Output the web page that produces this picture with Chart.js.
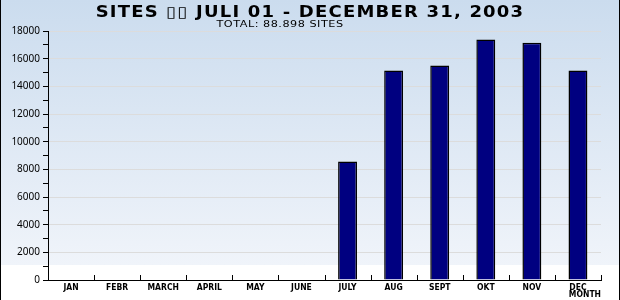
<!DOCTYPE html>
<html>
<head>
<meta charset="utf-8">
<script src="https://cdn.jsdelivr.net/npm/chart.js@4"></script>
<style>
  html, body { margin: 0; padding: 0; background: #fff; }
  #wrap { width: 620px; height: 300px; }
</style>
</head>
<body>
<div id="wrap"><canvas id="myChart" width="620" height="300"></canvas></div>
<script>
// values
var months = ["JAN", "FEBR", "MARCH", "APRIL", "MAY", "JUNE", "JULY", "AUG", "SEPT", "OKT", "NOV", "DEC"];
var sites = [0, 0, 0, 0, 0, 0, 8570, 15150, 15500, 17380, 17150, 15148];
var titleText = "SITES \u25AF\u25AF JULI 01 - DECEMBER 31, 2003";
var subtitleText = "TOTAL: 88.898 SITES";

// gradient page background + black side edges
var bgPlugin = {
  id: "bg",
  beforeDraw: function(chart) {
    var c = chart.ctx;
    var g = c.createLinearGradient(0, 0, 0, 265);
    g.addColorStop(0, "#cbdcee");
    g.addColorStop(1, "#f0f4fa");
    c.save();
    c.fillStyle = "#fff";
    c.fillRect(0, 0, chart.width, chart.height);
    c.fillStyle = g;
    c.fillRect(0, 0, chart.width, 265);
    c.fillStyle = "#000";
    c.fillRect(0, 0, 1, chart.height);
    c.fillRect(chart.width - 1, 0, 1, chart.height);
    c.restore();
  }
};

// wide stretched heading (chart.js title can't stretch text)
function wideText(c, txt, font, spacing, sx, cx, y) {
  c.save();
  c.font = font;
  c.letterSpacing = spacing;
  c.textAlign = "center";
  c.textBaseline = "alphabetic";
  c.translate(cx, y);
  c.scale(sx, 1);
  c.fillText(txt, 0, 0);
  c.restore();
}
var heading = {
  id: "heading",
  afterDraw: function(chart) {
    var c = chart.ctx;
    c.fillStyle = "#000";
    wideText(c, titleText, "bold 15px 'DejaVu Sans'", "1px", 1.2, 310, 17);
    wideText(c, subtitleText, "9px 'DejaVu Sans'", "0.4px", 1.25, 280, 27);
  }
};

// small ticks pointing up from the x axis, between the months
var xTicks = {
  id: "xticks",
  afterDraw: function(chart) {
    var x = chart.scales.x, c = chart.ctx, b = chart.chartArea.bottom;
    c.save();
    c.strokeStyle = "#000";
    c.lineWidth = 1;
    for (var i = 0; i <= months.length; i++) {
      var px = Math.round(x.getPixelForValue(i - 0.5)) + 0.5;
      c.beginPath();
      c.moveTo(px, b - 5);
      c.lineTo(px, b);
      c.stroke();
    }
    c.restore();
  }
};

var ctx = document.getElementById("myChart");
var myChart = new Chart(ctx, {
  type: "bar",
  data: {
    labels: months,
    datasets: [{
      data: sites,
      backgroundColor: "#000080",
      borderColor: "#000",
      borderWidth: 1.5,
      borderSkipped: "bottom",
      barPercentage: 0.41,
      categoryPercentage: 1
    }]
  },
  options: {
    responsive: false,
    animation: false,
    layout: { padding: { left: 0, right: 19, top: 31, bottom: 0 } },
    plugins: {
      legend: { display: false },
      tooltip: { enabled: false },
      title: { display: false },
      subtitle: { display: false }
    },
    scales: {
      x: {
        afterFit: function(s) { s.height = 20; },
        border: { color: "#000", width: 1 },
        grid: { drawOnChartArea: false, drawTicks: false },
        ticks: {
          color: "#000",
          padding: 3,
          maxRotation: 0,
          font: { family: "DejaVu Sans Condensed", size: 8.5, weight: "bold" }
        },
        title: {
          display: true,
          text: "MONTH",
          align: "end",
          color: "#000",
          padding: { top: -3, bottom: 0 },
          font: { family: "DejaVu Sans Condensed", size: 8.5, weight: "bold" }
        }
      },
      y: {
        min: 0,
        max: 18000,
        afterFit: function(s) { s.width = 48; },
        border: { color: "#000", width: 1 },
        grid: {
          color: function(c) {
            return (c.tick && c.tick.value % 2000 === 0 && c.tick.value !== 0) ? "#dcdcdc" : "rgba(0,0,0,0)";
          },
          tickColor: "#000",
          tickLength: 5
        },
        ticks: {
          stepSize: 1000,
          autoSkip: false,
          color: "#000",
          padding: 3,
          font: { family: "Noto Sans", size: 10 },
          callback: function(v) { return v % 2000 === 0 ? v : ""; }
        }
      }
    }
  },
  plugins: [bgPlugin, heading, xTicks]
});
</script>
</body>
</html>
